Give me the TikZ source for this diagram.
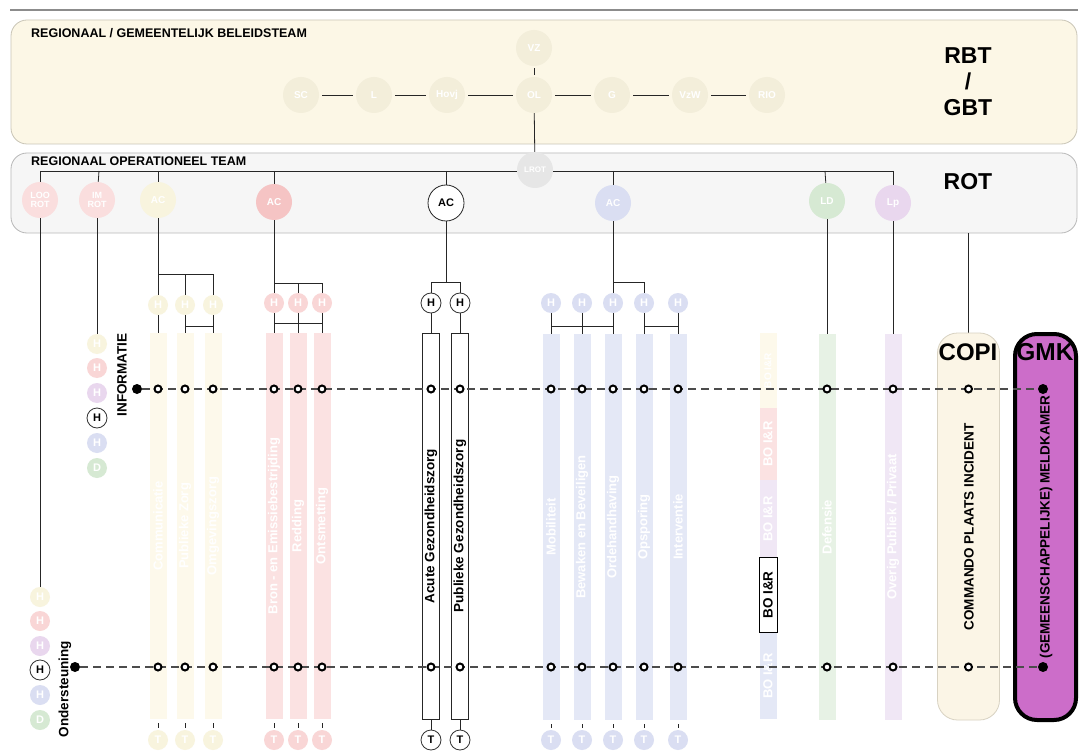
\documentclass[tikz,border=0pt]{standalone}
\usepackage{fontspec}
\setmainfont{Liberation Sans}
\usetikzlibrary{calc}
\pgfdeclarelayer{back}
\pgfdeclarelayer{lines}
\pgfsetlayers{back,lines,main}
\definecolor{rbtfill}{HTML}{FCF7E6}
\definecolor{rbtline}{HTML}{C9C5B6}
\definecolor{rbtcirc}{HTML}{F3EEDA}
\definecolor{rotfill}{HTML}{F6F6F6}
\definecolor{rotline}{HTML}{B8B8B8}
\definecolor{ybar}{HTML}{FDF9EB}
\definecolor{ycirc}{HTML}{F8F4DE}
\definecolor{rbar}{HTML}{FBE2E2}
\definecolor{rcirc}{HTML}{F9D6D6}
\definecolor{racc}{HTML}{F5C4C4}
\definecolor{bbar}{HTML}{E4E8F6}
\definecolor{bcirc}{HTML}{DADEF2}
\definecolor{gbar}{HTML}{E7F2E5}
\definecolor{gcirc}{HTML}{D6E9D3}
\definecolor{pbar}{HTML}{F0E7F5}
\definecolor{pcirc}{HTML}{E9D7EE}
\definecolor{lrotc}{HTML}{E6E6E6}
\definecolor{copifill}{HTML}{FBF5E6}
\definecolor{copiline}{HTML}{D8D2C2}
\definecolor{gmkfill}{HTML}{CC6DC9}
\begin{document}
\begin{tikzpicture}[x=1pt,y=-1pt,
  lbl/.style={font=\bfseries\fontsize{12.5}{13}\selectfont, anchor=west, inner sep=0pt},
  big/.style={font=\bfseries\fontsize{23}{26}\selectfont, inner sep=0pt, align=center},
  fc/.style={circle, minimum size=36pt, inner sep=0pt, text=white, font=\bfseries\fontsize{10}{10}\selectfont, align=center},
  hc/.style={circle, minimum size=20pt, inner sep=0pt, font=\bfseries\fontsize{11}{11}\selectfont},
  hw/.style={hc, draw=black!80, fill=white, line width=0.8pt},
  hf/.style={hc, text=white},
  bar/.style={rectangle, rotate=90, minimum width=386pt, minimum height=17pt, inner sep=0pt, text=white, font=\bfseries\fontsize{13}{13}\selectfont},
  ring/.style={circle, draw=black, line width=2pt, fill=white, minimum size=7pt, inner sep=0pt},
  bdot/.style={circle, fill=black, minimum size=10pt, inner sep=0pt},
  conn/.style={draw=black!85, line width=0.8pt},
  dline/.style={draw=black!70, line width=1.5pt, dash pattern=on 8pt off 5pt},
  vt/.style={rotate=90, font=\bfseries\fontsize{13.5}{14}\selectfont, inner sep=0pt},
]
\useasboundingbox (0,0) rectangle (1086,751);

% team boxes
\begin{pgfonlayer}{back}
\fill[white] (0,0) rectangle (1086,751);
\draw[line width=2.5pt, black!45] (10,10) -- (1078,10);
\node[draw=rbtline, fill=rbtfill, rounded corners=16pt, minimum width=1066pt, minimum height=124pt, line width=0.8pt] (rbt) at (544,82) {};
\node[draw=rotline, fill=rotfill, rounded corners=16pt, minimum width=1066pt, minimum height=80pt, line width=0.8pt] (rot) at (544,193) {};
\end{pgfonlayer}

\node[lbl] (rbtlbl) at (31,33) {REGIONAAL / GEMEENTELIJK BELEIDSTEAM};
\node[lbl] (rotlbl) at (31,161) {REGIONAAL OPERATIONEEL TEAM};
\node[big] (rbtname) at (968,82) {RBT\\/\\GBT};
\node[big] (rotname) at (968,182) {ROT};

% RBT circles
\node[fc, fill=rbtcirc] (vz) at (534,48) {VZ};
\node[fc, fill=rbtcirc] (sc) at (301,95) {SC};
\node[fc, fill=rbtcirc] (l) at (374,95) {L};
\node[fc, fill=rbtcirc] (hovj) at (447,95) {Hovj};
\node[fc, fill=rbtcirc] (ol) at (534,95) {OL};
\node[fc, fill=rbtcirc] (g) at (612,95) {G};
\node[fc, fill=rbtcirc] (vzw) at (690,95) {VzW};
\node[fc, fill=rbtcirc] (rio) at (767,95) {RIO};
\node[fc, fill=lrotc, font=\bfseries\fontsize{8}{8}\selectfont] (lrot) at (535,170) {LROT};

% ROT circles
\node[fc, fill=rcirc!80, font=\bfseries\fontsize{9}{9}\selectfont] (loo) at (40,200) {LOO\\ROT};
\node[fc, fill=rcirc!80, font=\bfseries\fontsize{9}{9}\selectfont] (im) at (97,200) {IM\\ROT};
\node[fc, fill=ycirc] (acY) at (158,200) {AC};
\node[fc, fill=racc] (acR) at (274,202) {AC};
\node[fc, draw=black!85, fill=white, text=black, line width=0.8pt, font=\bfseries\fontsize{11}{11}\selectfont] (acW) at (446,203) {AC};
\node[fc, fill=bcirc] (acB) at (613,203) {AC};
\node[fc, fill=gcirc] (ld) at (827,201) {LD};
\node[fc, fill=pcirc] (lp) at (893,203) {Lp};

% left columns (IM ROT)
\node[hf, fill=ycirc] (ic1) at (97,344) {H};
\node[hf, fill=rcirc] (ic2) at (97,368) {H};
\node[hf, fill=pcirc] (ic3) at (97,393) {H};
\node[hw] (ic4) at (97,418) {H};
\node[hf, fill=bcirc] (ic5) at (97,443) {H};
\node[hf, fill=gcirc] (ic6) at (97,468) {D};
\node[vt] (info) at (122,375) {INFORMATIE};
% left column (LOO ROT)
\node[hf, fill=ycirc] (lc1) at (40,597) {H};
\node[hf, fill=rcirc] (lc2) at (40,621) {H};
\node[hf, fill=pcirc] (lc3) at (40,646) {H};
\node[hw] (lc4) at (40,670) {H};
\node[hf, fill=bcirc] (lc5) at (40,695) {H};
\node[hf, fill=gcirc] (lc6) at (40,720) {D};
\node[vt] (ond) at (65,689) {Ondersteuning};

% yellow group
\node[hf, fill=ycirc] (yc1) at (158,305) {H};
\node[hf, fill=ycirc] (yc2) at (185,305) {H};
\node[hf, fill=ycirc] (yc3) at (213,305) {H};
\node[bar, fill=ybar] (yb1) at (158,526) {Communicatie};
\node[bar, fill=ybar] (yb2) at (185,526) {Publieke Zorg};
\node[bar, fill=ybar] (yb3) at (213,526) {Omgevingszorg};
\node[hf, fill=ycirc] (yt1) at (158,740) {T};
\node[hf, fill=ycirc] (yt2) at (185,740) {T};
\node[hf, fill=ycirc] (yt3) at (213,740) {T};

% red group
\node[hf, fill=rcirc] (rc1) at (274,303) {H};
\node[hf, fill=rcirc] (rc2) at (298,303) {H};
\node[hf, fill=rcirc] (rc3) at (322,303) {H};
\node[bar, fill=rbar] (rb1) at (274,526) {Bron - en Emissiebestrijding};
\node[bar, fill=rbar] (rb2) at (298,526) {Redding};
\node[bar, fill=rbar] (rb3) at (322,526) {Ontsmetting};
\node[hf, fill=rcirc] (rt1) at (274,740) {T};
\node[hf, fill=rcirc] (rt2) at (298,740) {T};
\node[hf, fill=rcirc] (rt3) at (322,740) {T};

% white group
\node[hw] (wh1) at (431,303) {H};
\node[hw] (wh2) at (460,303) {H};
\node[bar, draw=black!85, fill=white, text=black, line width=0.8pt, font=\bfseries\fontsize{13.5}{14}\selectfont] (wb1) at (431,526) {Acute Gezondheidszorg};
\node[bar, draw=black!85, fill=white, text=black, line width=0.8pt, font=\bfseries\fontsize{13.5}{14}\selectfont] (wb2) at (460,526) {Publieke Gezondheidszorg};
\node[hw] (wt1) at (431,740) {T};
\node[hw] (wt2) at (460,740) {T};

% blue group
\node[hf, fill=bcirc] (bc1) at (551,303) {H};
\node[hf, fill=bcirc] (bc2) at (582,303) {H};
\node[hf, fill=bcirc] (bc3) at (613,303) {H};
\node[hf, fill=bcirc] (bc4) at (644,303) {H};
\node[hf, fill=bcirc] (bc5) at (678,303) {H};
\node[bar, fill=bbar] (bb1) at (551,527) {Mobiliteit};
\node[bar, fill=bbar] (bb2) at (582,527) {Bewaken en Beveiligen};
\node[bar, fill=bbar] (bb3) at (613,527) {Ordehandhaving};
\node[bar, fill=bbar] (bb4) at (644,527) {Opsporing};
\node[bar, fill=bbar] (bb5) at (678,527) {Interventie};
\node[hf, fill=bcirc] (bt1) at (551,740) {T};
\node[hf, fill=bcirc] (bt2) at (582,740) {T};
\node[hf, fill=bcirc] (bt3) at (613,740) {T};
\node[hf, fill=bcirc] (bt4) at (644,740) {T};
\node[hf, fill=bcirc] (bt5) at (678,740) {T};

% BO I&R column
\node[bar, fill=ybar, minimum width=75pt, font=\bfseries\fontsize{10}{10}\selectfont] (bo1) at (768,370.5) {BO I\&R};
\node[bar, fill=rbar, minimum width=72pt] (bo2) at (768,444) {BO I\&R};
\node[bar, fill=pbar, minimum width=78pt] (bo3) at (768,519) {BO I\&R};
\node[bar, fill=bbar, minimum width=161pt] (bo4) at (768,638.5) {};
\node[rotate=90, text=white, font=\bfseries\fontsize{13}{13}\selectfont, inner sep=0pt] (bo4t) at (768,676) {BO I\&R};
\node[rotate=90, draw=black, fill=white, line width=0.8pt, minimum width=75pt, minimum height=18pt, inner sep=0pt, font=\bfseries\fontsize{13.5}{14}\selectfont] (boir) at (768,595) {BO I\&R};

% LD / Lp columns
\node[bar, fill=gbar] (gb) at (827,527) {Defensie};
\node[bar, fill=pbar] (pb) at (893,527) {Overig Publiek / Privaat};

% COPI and GMK
\node[draw=copiline, fill=copifill, rounded corners=20pt, minimum width=62pt, minimum height=387pt, line width=0.8pt, inner sep=0pt] (copi) at (968.5,526.5) {};
\node[big, font=\bfseries\fontsize{24}{26}\selectfont] (copit) at (968,352) {COPI};
\node[vt] (copiv) at (969,527) {COMMANDO PLAATS INCIDENT};
\node[draw=black, fill=gmkfill, rounded corners=22pt, minimum width=61pt, minimum height=386pt, line width=4pt, inner sep=0pt] (gmk) at (1045.5,527) {};
\node[big, font=\bfseries\fontsize{24.5}{26}\selectfont] (gmkt) at (1045,352) {GMK};
\node[vt] (gmkv) at (1046,527) {(GEMEENSCHAPPELIJKE) MELDKAMER};

% connectors
\begin{pgfonlayer}{lines}
\draw[conn, shorten <=2pt, shorten >=2pt] (vz) -- (ol);
\draw[conn, shorten <=3pt, shorten >=3pt] (sc) -- (l);
\draw[conn, shorten <=3pt, shorten >=3pt] (l) -- (hovj);
\draw[conn, shorten <=3pt, shorten >=3pt] (hovj) -- (ol);
\draw[conn, shorten <=3pt, shorten >=3pt] (ol) -- (g);
\draw[conn, shorten <=3pt, shorten >=3pt] (g) -- (vzw);
\draw[conn, shorten <=3pt, shorten >=3pt] (vzw) -- (rio);
\draw[conn] (ol) -- (lrot);
\coordinate (hl) at (40,171);
\coordinate (hr) at (893,171);
\draw[conn] (hl) -- (hr);
\draw[conn] (loo |- hl) -- (loo);
\draw[conn] ($(im |- hl)+(2,0)$) -- (im);
\draw[conn] (acY |- hl) -- (acY);
\draw[conn] (acR |- hl) -- (acR);
\draw[conn] (acW |- hl) -- (acW);
\draw[conn] (acB |- hl) -- (acB);
\draw[conn] ($(ld |- hl)+(-2,0)$) -- (ld);
\draw[conn] (lp |- hl) -- (lp);
% down to columns
\draw[conn] (loo) -- (lc1);
\draw[conn] (im) -- (ic1);
\draw[conn] (acY) -- (yb1.east);
\coordinate (yk) at (158,274);
\draw[conn] (yk) -| (yc3);
\draw[conn] (yk -| yc2) -- (yc2);
\coordinate (yk2) at (185,326);
\draw[conn] (yk2) -- (yk2 -| yc3);
\draw[conn] (yc2) -- (yb2.east);
\draw[conn] (yc3) -- (yb3.east);
\draw[conn] (acR) -- (rb1.east);
\coordinate (rk) at (274,283);
\draw[conn] (rk) -| (rc3);
\draw[conn] (rk -| rc2) -- (rc2);
\coordinate (rk2) at (274,323);
\draw[conn] (rk2) -- (rk2 -| rc3);
\draw[conn] (rc2) -- (rb2.east);
\draw[conn] (rc3) -- (rb3.east);
\coordinate (wk) at (446,282);
\draw[conn] (acW) -- (wk);
\draw[conn] (wk -| wh1) -- (wk -| wh2);
\draw[conn] (wk -| wh1) -- (wh1);
\draw[conn] (wk -| wh2) -- (wh2);
\draw[conn] (wh1) -- (wb1.east);
\draw[conn] (wh2) -- (wb2.east);
\draw[conn] (wb1.west) -- (wt1);
\draw[conn] (wb2.west) -- (wt2);
\draw[conn] (acB) -- (bc3);
\coordinate (bk) at (613,282);
\draw[conn] (bk) -| (bc4);
\coordinate (bk2) at (551,326);
\draw[conn] (bk2) -- (bk2 -| bc3);
\coordinate (bk3) at (644,326);
\draw[conn] (bk3) -- (bk3 -| bc5);
\draw[conn] (bc1) -- (bb1.east);
\draw[conn] (bc2) -- (bb2.east);
\draw[conn] (bc3) -- (bb3.east);
\draw[conn] (bc4) -- (bb4.east);
\draw[conn] (bc5) -- (bb5.east);
\draw[conn] (ld) -- (gb.east);
\draw[conn] (lp) -- (pb.east);
\draw[conn] (copi |- rot.south) -- (copi.north);
% ticks under bars
\foreach \b/\t in {yb1/yt1,yb2/yt2,yb3/yt3,rb1/rt1,rb2/rt2,rb3/rt3,bb1/bt1,bb2/bt2,bb3/bt3,bb4/bt4,bb5/bt5}
  \draw[conn, shorten <=4pt, shorten >=2pt] (\b.west) -- (\t);
\end{pgfonlayer}

% information / support lines
\node[bdot] (infodot) at (137,389) {};
\node[bdot] (onddot) at (75,667) {};
\coordinate (gmkc1) at (1043,389);
\coordinate (gmkc2) at (1043,667);
\draw[dline] (infodot) -- (gmkc1);
\draw[dline] (onddot) -- (gmkc2);
\node[bdot] (gmkd1) at (gmkc1) {};
\node[bdot] (gmkd2) at (gmkc2) {};
\foreach \b in {yb1,yb2,yb3,rb1,rb2,rb3,wb1,wb2,bb1,bb2,bb3,bb4,bb5,gb,pb,copi} {
  \node[ring] at (\b |- infodot) {};
  \node[ring] at (\b |- onddot) {};
}
\end{tikzpicture}
\end{document}
